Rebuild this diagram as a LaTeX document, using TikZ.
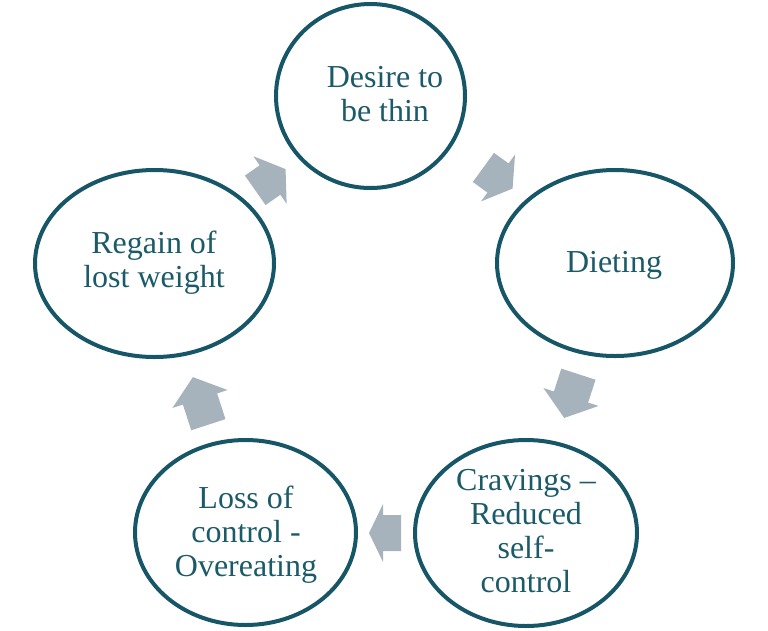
\documentclass[tikz,border=0pt]{standalone}
\usepackage{fontspec}
\setmainfont{Liberation Serif}
\usetikzlibrary{shapes.geometric}
\definecolor{ring}{RGB}{22,86,103}
\definecolor{txt}{RGB}{27,90,104}
\definecolor{arr}{RGB}{167,179,188}
\tikzset{
  stage/.style={ellipse, draw=ring, line width=4pt, inner sep=0pt},
  stagetext/.style={text=txt, align=center, inner sep=0pt, font=\fontsize{32}{34}\selectfont},
  blockarrow/.style={fill=arr}
}
\newcommand\blockarr[5]{%
  \fill[blockarrow, shift={(#1,#2)}, rotate=#3]
    (-#4,-18) -- (0,-18) -- (0,-29) -- (#5,0) -- (0,29) -- (0,18) -- (-#4,18) -- cycle;}
\begin{document}
\begin{tikzpicture}[x=1pt,y=-1pt]
\useasboundingbox (0,0) rectangle (768,630);
% rings
\node[stage, minimum width=189pt, minimum height=184pt] (desire) at (370.5,96) {};
\node[stage, minimum width=236pt, minimum height=186pt] (dieting) at (615,263) {};
\node[stage, minimum width=222pt, minimum height=186pt] (cravings) at (526,533) {};
\node[stage, minimum width=221pt, minimum height=185pt] (loss) at (245.5,532.5) {};
\node[stage, minimum width=239pt, minimum height=187pt] (regain) at (154.5,263.5) {};
% texts
\node[stagetext] (desireT) at (385,94) {Desire to\\be thin};
\node[stagetext] (dietingT) at (614,265) {Dieting};
\node[stagetext] (cravingsT) at (526,531.5) {Cravings --\\Reduced\\self-\\control};
\node[stagetext] (lossT) at (246,535) {Loss of\\control -\\Overeating};
\node[stagetext] (regainT) at (154,263) {Regain of\\lost weight};
% arrows
\blockarr{498}{178}{-36}{18}{18}
\blockarr{571}{397}{-108}{24}{22}
\blockarr{383}{533}{180}{18}{14}
\blockarr{200}{399}{108}{27}{23}
\blockarr{270}{180}{35}{18}{19}
\end{tikzpicture}
\end{document}
